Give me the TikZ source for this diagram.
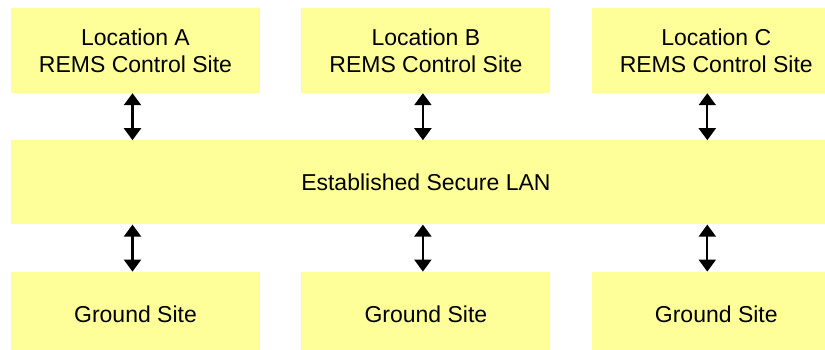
\documentclass[tikz,border=0pt]{standalone}
\usepackage{fontspec}
\setmainfont{Liberation Sans}
\usetikzlibrary{positioning,arrows.meta}

\definecolor{siteyellow}{HTML}{FFFF99}
\tikzstyle{site}=[fill=siteyellow,draw=none,inner sep=0pt,minimum width=249pt,minimum height=85pt,align=center,font=\fontsize{23}{27}\selectfont]
\tikzset{link/.style={{Triangle[width=17pt,length=12pt]}-{Triangle[width=17pt,length=12pt]},line width=2.2pt}}
\newcommand{\downlink}[3]{\draw[link] ([xshift=#3]#1.south) -- ([xshift=#3]#1.south |- #2.north);}
\newcommand{\uplink}[3]{\draw[link] ([xshift=#3]#2.north |- #1.south) -- ([xshift=#3]#2.north);}

\begin{document}
\begin{tikzpicture}[node distance=47pt and 41pt]
    \clip (0,0) rectangle (825pt,-350pt);
    \useasboundingbox (0,0) rectangle (825pt,-350pt);
    % control sites on top
    \node[site] (locA) at (135.5pt,-50.5pt) {Location A\\REMS Control Site};
    \node[site,right=of locA] (locB) {Location B\\REMS Control Site};
    \node[site,right=of locB] (locC) {Location C\\REMS Control Site};
    % the LAN
    \node[site,below=of locB,minimum width=830pt,minimum height=84pt] (lan) {Established Secure LAN};
    % ground sites
    \node[site,below=of lan] (gndB) {Ground Site};
    \node[site,left=of gndB] (gndA) {Ground Site};
    \node[site,right=of gndB] (gndC) {Ground Site};

    \downlink{locA}{lan}{-3pt}
    \downlink{locB}{lan}{-3pt}
    \downlink{locC}{lan}{-9pt}
    \uplink{lan}{gndA}{-3pt}
    \uplink{lan}{gndB}{-3pt}
    \uplink{lan}{gndC}{-9pt}
\end{tikzpicture}
\end{document}
